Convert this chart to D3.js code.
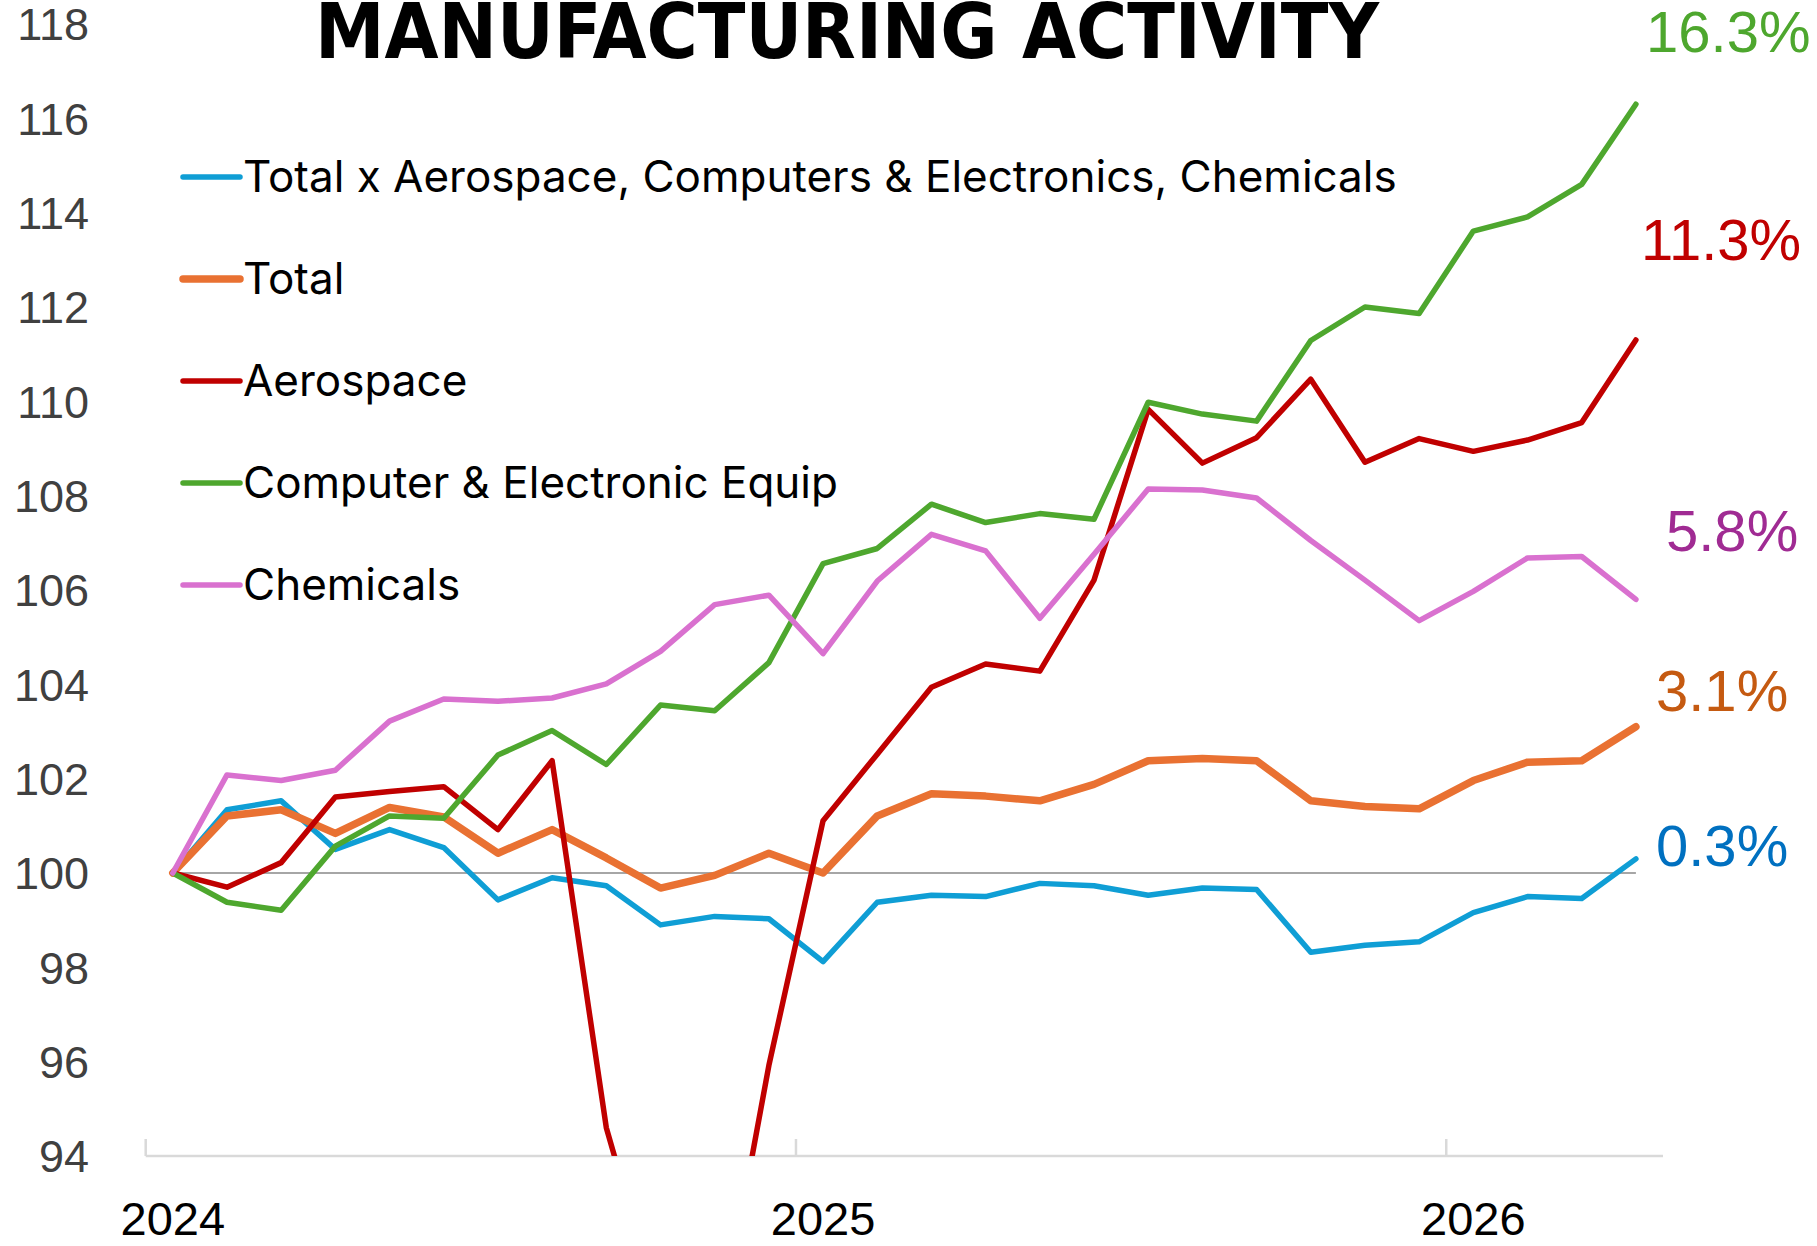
<!DOCTYPE html>
<html>
<head>
<meta charset="utf-8">
<script src="https://cdn.jsdelivr.net/npm/d3@7"></script>
<style>
  html, body { margin: 0; padding: 0; background: #fff; }
  svg { display: block; }
</style>
</head>
<body>
<svg id="chart" width="1817" height="1246"></svg>
<script>
// ---------------- DATA ----------------
const categories = [
  "Jan 2024","Feb 2024","Mar 2024","Apr 2024","May 2024","Jun 2024","Jul 2024","Aug 2024","Sep 2024","Oct 2024","Nov 2024","Dec 2024",
  "Jan 2025","Feb 2025","Mar 2025","Apr 2025","May 2025","Jun 2025","Jul 2025","Aug 2025","Sep 2025","Oct 2025","Nov 2025","Dec 2025",
  "Jan 2026","Feb 2026","Mar 2026","Apr 2026"
];
const yearTickCategories = ["Jan 2024", "Jan 2025", "Jan 2026"];
const yearLabels = ["2024", "2025", "2026"];
const yTicks = [94, 96, 98, 100, 102, 104, 106, 108, 110, 112, 114, 116, 118];

const seriesNames = [
  "Total x Aerospace, Computers & Electronics, Chemicals",
  "Total",
  "Aerospace",
  "Computer & Electronic Equip",
  "Chemicals"
];

const totalExValues = [100, 101.34, 101.53, 100.5, 100.92, 100.54, 99.43, 99.9, 99.73, 98.9, 99.08, 99.03,
  98.12, 99.38, 99.53, 99.5, 99.78, 99.73, 99.53, 99.68, 99.65, 98.32, 98.47, 98.54,
  99.16, 99.5, 99.46, 100.3];
const totalValues = [100, 101.21, 101.34, 100.84, 101.39, 101.19, 100.42, 100.92, 100.32, 99.68, 99.95, 100.42,
  100.0, 101.21, 101.68, 101.63, 101.53, 101.88, 102.38, 102.43, 102.38, 101.53, 101.41, 101.36,
  101.96, 102.35, 102.38, 103.1];
const aerospaceValues = [100, 99.7, 100.22, 101.61, 101.73, 101.83, 100.92, 102.38, 94.6, 90.6, 89.7, 95.92,
  101.11, 102.52, 103.94, 104.43, 104.28, 106.21, 109.83, 108.69, 109.23, 110.47, 108.71, 109.21,
  108.94, 109.18, 109.55, 111.3];
const computerValues = [100, 99.38, 99.21, 100.57, 101.21, 101.16, 102.5, 103.02, 102.3, 103.56, 103.44, 104.46,
  106.56, 106.88, 107.82, 107.43, 107.62, 107.5, 109.98, 109.73, 109.58, 111.29, 112.0, 111.86,
  113.61, 113.91, 114.6, 116.3];
const chemicalsValues = [100, 102.08, 101.96, 102.18, 103.22, 103.69, 103.64, 103.71, 104.01, 104.7, 105.69, 105.89,
  104.65, 106.19, 107.18, 106.83, 105.4, 106.76, 108.14, 108.12, 107.95, 107.05, 106.21, 105.35,
  105.97, 106.68, 106.71, 105.8];

const endLabels = ["0.3%", "3.1%", "11.3%", "16.3%", "5.8%"];

// ---------------- STYLE / LAYOUT ----------------
const lineColors = ["#0F9ED5", "#E97132", "#C00000", "#4EA72E", "#D971CF"];
const lineWidths = [5.5, 7.5, 5.5, 5.5, 5.5];
const labelColors = ["#0070C0", "#C55A11", "#C00000", "#4EA72E", "#A02B93"];
// label placement (left x, vertical center) in px
const labelPos = [[1656, 846], [1656, 691], [1641, 240], [1646, 32], [1666, 531]];
const drawOrder = [0, 1, 2, 3, 4];

const plot = { left: 145.7, right: 1663, top: 24, bottom: 1156 };

const svg = d3.select("#chart");

const x = d3.scaleBand().domain(categories).range([plot.left, plot.right]).padding(0);
const xc = c => x(c) + x.bandwidth() / 2;
const y = d3.scaleLinear().domain([94, 118]).range([plot.bottom, plot.top]);

const allSeries = [totalExValues, totalValues, aerospaceValues, computerValues, chemicalsValues];

// clip
svg.append("defs").append("clipPath").attr("id", "plotclip")
  .append("rect")
  .attr("x", plot.left).attr("y", 0)
  .attr("width", plot.right - plot.left + 30).attr("height", plot.bottom);

// Y axis labels
const yAxis = d3.axisLeft(y).tickValues(yTicks).tickSize(0).tickPadding(0).tickFormat(d3.format("d"));
const yg = svg.append("g").attr("transform", "translate(89,0)").call(yAxis);
yg.select(".domain").remove();
yg.selectAll("text")
  .attr("font-family", "'Liberation Sans', Arial, sans-serif")
  .attr("font-size", 45)
  .attr("fill", "#404040")
  .attr("dy", "0.35em");

// 100 reference line
svg.append("line")
  .attr("x1", xc(categories[0])).attr("x2", xc(categories[categories.length - 1]))
  .attr("y1", y(100)).attr("y2", y(100))
  .attr("stroke", "#A6A6A6").attr("stroke-width", 2);

// X axis line and ticks
const xg = svg.append("g");
xg.append("line")
  .attr("x1", plot.left).attr("x2", plot.right)
  .attr("y1", plot.bottom).attr("y2", plot.bottom)
  .attr("stroke", "#D9D9D9").attr("stroke-width", 2.5);
xg.selectAll("line.tick").data(yearTickCategories).join("line")
  .attr("class", "tick")
  .attr("x1", d => x(d)).attr("x2", d => x(d))
  .attr("y1", plot.bottom - 17).attr("y2", plot.bottom)
  .attr("stroke", "#D9D9D9").attr("stroke-width", 2.5);
xg.selectAll("text").data(yearTickCategories).join("text")
  .attr("x", d => xc(d))
  .attr("y", 1235)
  .attr("text-anchor", "middle")
  .attr("font-family", "'Liberation Sans', Arial, sans-serif")
  .attr("font-size", 47)
  .attr("fill", "#000")
  .text((d, i) => yearLabels[i]);

// lines
const lineGen = d3.line().x((d, i) => xc(categories[i])).y(d => y(d)).curve(d3.curveLinear);
const lg = svg.append("g").attr("clip-path", "url(#plotclip)");
drawOrder.forEach(k => {
  lg.append("path")
    .datum(allSeries[k])
    .attr("d", lineGen)
    .attr("fill", "none")
    .attr("stroke", lineColors[k])
    .attr("stroke-width", lineWidths[k])
    .attr("stroke-linejoin", "round")
    .attr("stroke-linecap", "round");
});

// legend
const legendX = 183, legendRows = [177, 279, 381, 483, 585];
const leg = svg.append("g");
seriesNames.forEach((name, k) => {
  leg.append("line")
    .attr("x1", legendX).attr("x2", legendX + 57)
    .attr("y1", legendRows[k]).attr("y2", legendRows[k])
    .attr("stroke", lineColors[k]).attr("stroke-width", k === 1 ? 7.5 : 5.5)
    .attr("stroke-linecap", "round");
  leg.append("text")
    .attr("x", legendX + 60).attr("y", legendRows[k])
    .attr("dy", "0.35em")
    .attr("font-family", "Inter, 'Open Sans', sans-serif")
    .attr("font-size", 44)
    .attr("fill", "#000")
    .text(name);
});

// end labels
endLabels.forEach((t, k) => {
  svg.append("text")
    .attr("x", labelPos[k][0]).attr("y", labelPos[k][1])
    .attr("dy", "0.35em")
    .attr("font-family", "'Liberation Sans', Arial, sans-serif")
    .attr("font-size", 58)
    .attr("fill", labelColors[k])
    .text(t);
});

// title
svg.append("text")
  .attr("x", 847).attr("y", 58)
  .attr("text-anchor", "middle")
  .attr("font-family", "'Liberation Sans Narrow', 'DejaVu Sans Condensed', 'Arial Narrow', sans-serif")
  .attr("font-weight", "bold")
  .attr("font-size", 76)
  .attr("textLength", 1064)
  .attr("lengthAdjust", "spacingAndGlyphs")
  .attr("fill", "#000")
  .text("MANUFACTURING ACTIVITY");
</script>
</body>
</html>
